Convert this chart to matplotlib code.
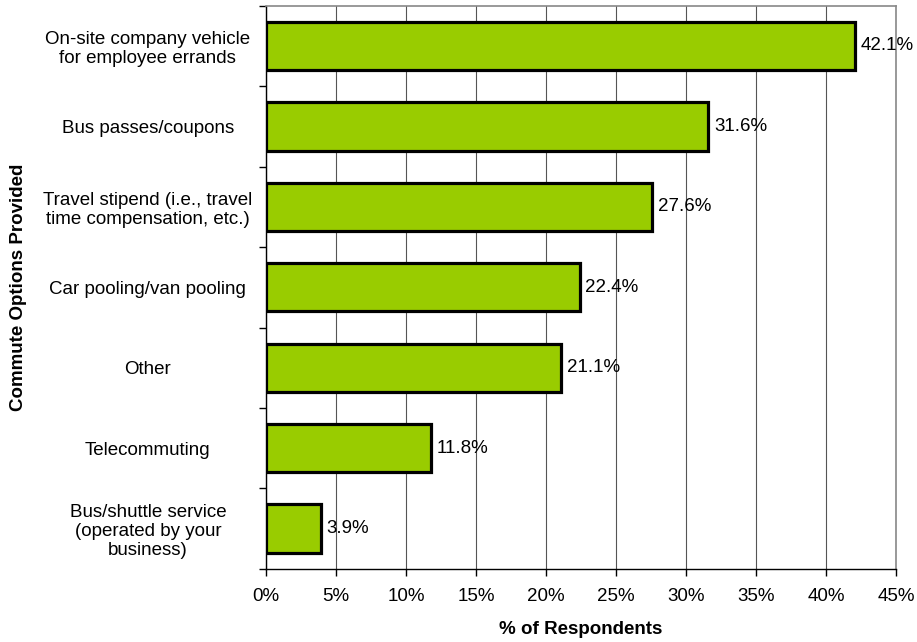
import matplotlib

matplotlib.use("Agg")
import matplotlib.pyplot as plt
import numpy as np
from matplotlib.ticker import FixedLocator, FuncFormatter, MultipleLocator

plt.rcParams["font.family"] = ["Liberation Sans", "DejaVu Sans"]

# Survey results, listed top to bottom as drawn.
options = [
    "On-site company vehicle\nfor employee errands",
    "Bus passes/coupons",
    "Travel stipend (i.e., travel\ntime compensation, etc.)",
    "Car pooling/van pooling",
    "Other",
    "Telecommuting",
    "Bus/shuttle service\n(operated by your\nbusiness)",
]
pct = [42.1, 31.6, 27.6, 22.4, 21.1, 11.8, 3.9]

BAR_GREEN = "#99CC00"
GRID = "#555555"
FRAME = "#888888"
FS = 13.5

fig = plt.figure(figsize=(9.17, 6.42), dpi=100)
ax = fig.add_axes([0.290, 0.114, 0.687, 0.877])

y = np.arange(len(options))[::-1]
ax.barh(y, pct, height=0.6, color=BAR_GREEN, edgecolor="black",
        linewidth=2.3, zorder=3)
for yi, v in zip(y, pct):
    ax.text(v + 0.4, yi, f"{v:.1f}%", va="center", ha="left",
            fontsize=FS, zorder=4)

ax.set_xlim(0, 45)
ax.set_ylim(-0.5, len(options) - 0.5)
ax.xaxis.set_major_locator(MultipleLocator(5))
ax.xaxis.set_major_formatter(FuncFormatter(lambda v, _: f"{v:.0f}%"))
ax.grid(True, axis="x", color=GRID, lw=0.8, zorder=0)

# category labels centred on bars, ticks at the boundaries between them
ax.set_yticks(y)
ax.set_yticklabels(options, ha="center", multialignment="center",
                   linespacing=1.15)
ax.yaxis.set_minor_locator(FixedLocator(np.arange(-0.5, len(options), 1.0)))
ax.tick_params(axis="y", which="major", length=0, pad=85)
ax.tick_params(axis="y", which="minor", length=5, width=1, direction="out")
ax.tick_params(axis="x", length=5, width=1, direction="out", pad=9)
ax.tick_params(labelsize=FS)

for side in ("left", "bottom"):
    ax.spines[side].set_color("black")
    ax.spines[side].set_linewidth(1.0)
for side in ("top", "right"):
    ax.spines[side].set_color(FRAME)
    ax.spines[side].set_linewidth(1.2)

ax.set_xlabel("% of Respondents", fontsize=FS, fontweight="bold", labelpad=11)
ax.set_ylabel("Commute Options Provided", fontsize=FS, fontweight="bold")
ax.yaxis.set_label_coords(-0.380, 0.5)

fig.savefig("out.png", dpi=100)
plt.close(fig)
